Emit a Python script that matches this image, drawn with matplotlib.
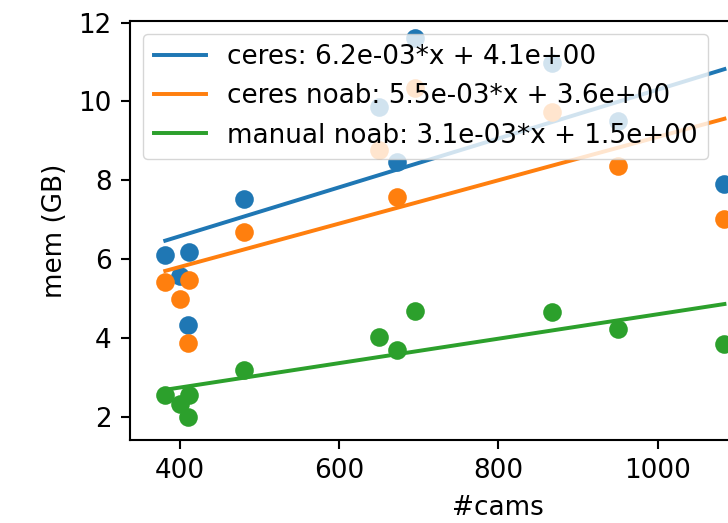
import numpy as np
import matplotlib
matplotlib.use("Agg")
import matplotlib.pyplot as plt

# data
cams = [382, 400, 410, 412, 481, 650, 673, 696, 868, 950, 1084]
ceres = [6.10, 5.57, 4.33, 6.19, 7.52, 9.87, 8.47, 11.60, 10.97, 9.51, 7.90]
ceres_noab = [5.43, 4.98, 3.88, 5.47, 6.70, 8.77, 7.57, 10.33, 9.74, 8.36, 7.02]
manual_noab = [2.55, 2.32, 2.00, 2.55, 3.18, 4.03, 3.69, 4.69, 4.65, 4.23, 3.84]

series_names = ["ceres", "ceres noab", "manual noab"]
series_vals = [ceres, ceres_noab, manual_noab]
slopes = [6.2e-03, 5.5e-03, 3.1e-03]
intercepts = [4.1e+00, 3.6e+00, 1.5e+00]
colors = ["#1f77b4", "#ff7f0e", "#2ca02c"]

k = 1.89
plt.rcParams.update({
    "font.size": 10 * k,
    "axes.linewidth": 0.8 * k,
    "xtick.major.width": 0.8 * k,
    "ytick.major.width": 0.8 * k,
    "xtick.major.size": 3.5 * k,
    "ytick.major.size": 3.5 * k,
    "xtick.major.pad": 3.5 * k,
    "ytick.major.pad": 3.5 * k,
    "axes.labelpad": 4.0 * k,
    "lines.linewidth": 1.5 * k,
    "legend.fontsize": 10 * k,
})

fig = plt.figure(figsize=(7.28, 5.23), dpi=100)
ax = fig.add_axes([130 / 728, 83 / 523, (1262 - 337.7) * 0.7965 / 728, 419.3 / 523])

x = np.array(cams, dtype=float)
for name, vals, m, b, c in zip(series_names, series_vals, slopes, intercepts, colors):
    ax.scatter(x, vals, s=180, color=c, zorder=2, linewidths=0)
    xl = np.array([x.min(), x.max()])
    ax.plot(xl, m * xl + b, color=c, zorder=2,
            label=f"{name}: {m:.1e}*x + {b:.1e}")

ax.set_xlim(337.7, 1262)
ax.set_ylim(1.41, 12.05)
ax.set_xticks([400, 600, 800, 1000])
ax.set_yticks([2, 4, 6, 8, 10, 12])
ax.set_xlabel("#cams")
ax.set_ylabel("mem (GB)")
leg = ax.legend(loc="upper left", borderaxespad=0.5)
leg.set_zorder(5)

fig.savefig("out.png", dpi=100)
